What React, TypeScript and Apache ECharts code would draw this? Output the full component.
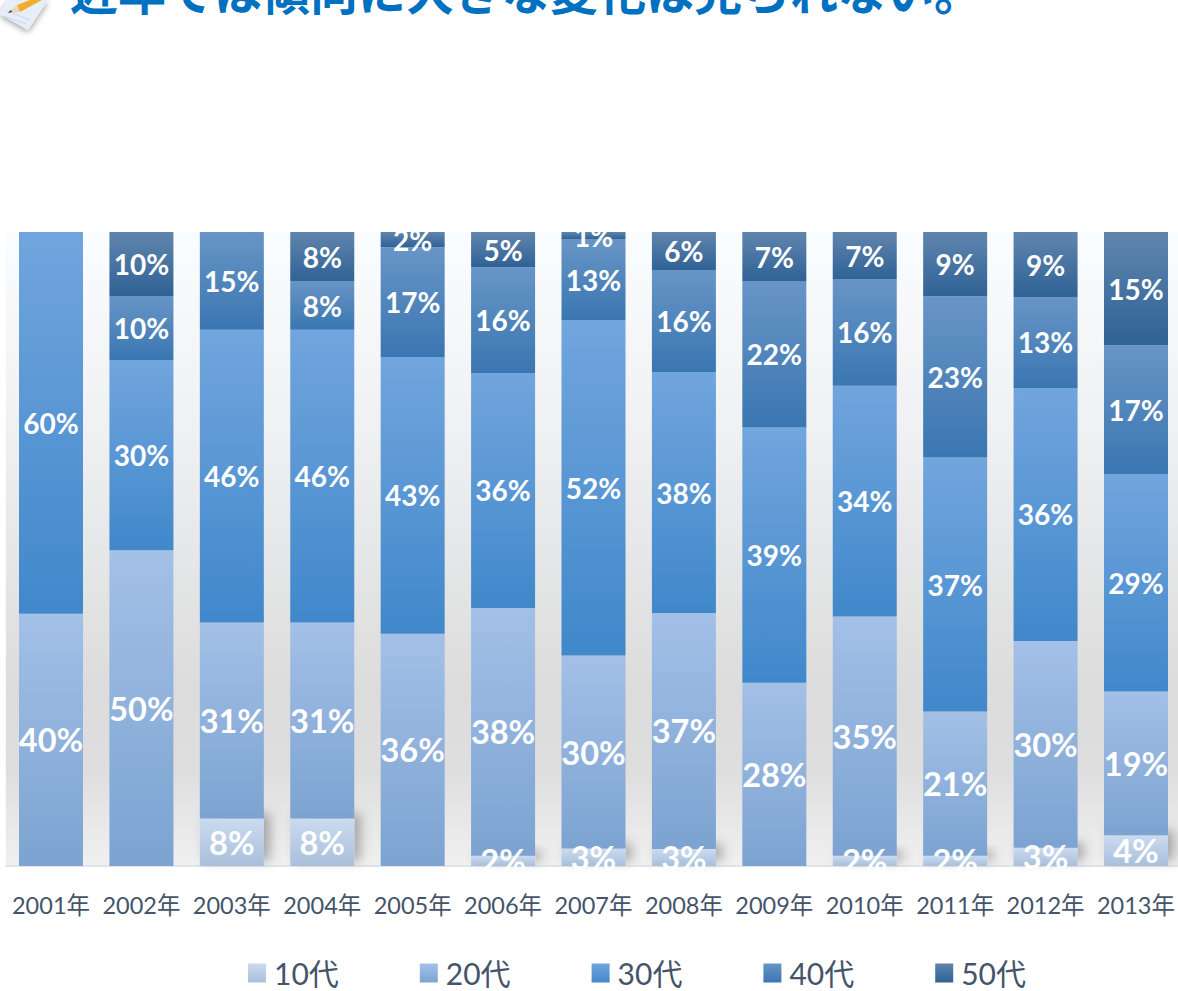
import React, { useEffect, useRef } from "react";
import * as echarts from "echarts";

const years = ["2001年","2002年","2003年","2004年","2005年","2006年","2007年","2008年","2009年","2010年","2011年","2012年","2013年"];
const seriesNames = ["10代","20代","30代","40代","50代"];
const teens =    [0,    0,    7.5,  7.5,  0,    1.6,  2.7,  2.7,  0,     1.5,  1.5,  2.6,  4.1];
const twenties = [39.8, 49.8, 30.9, 30.9, 36.4, 38.4, 29.8, 37.2, 27.6,  35.4, 20.9, 29.6, 19.2];
const thirties = [60.2, 30,   46.2, 46.2, 43.4, 36.4, 51.8, 38,   38.5,  34.1, 36.8, 36.2, 29];
const forties =  [0,    10.1, 15.4, 7.6,  17.2, 16.4, 12.5, 16.1, 22,    15.8, 23.4, 13,   17.2];
const fifties =  [0,    10.1, 0,    7.8,  2.4,  5.45, 1.1,  6,    7.45,  6.95, 9.3,  9.3,  15.1];
const allValues = [teens, twenties, thirties, forties, fifties];

const topColors = ["#cbdbf0", "#a3c0e7", "#71a5dd", "#6895c6", "#6085ad"];
const bottomColors = ["#a8bfdb", "#7ca3d1", "#4088cb", "#3a76b1", "#2f6296"];

function grad(c1: string, c2: string) {
  return new echarts.graphic.LinearGradient(0, 0, 0, 1, [
    { offset: 0, color: c1 },
    { offset: 1, color: c2 },
  ]);
}

export default function App() {
  const ref = useRef<HTMLDivElement>(null);
  useEffect(() => {
    document.body.style.margin = "0";
    document.body.style.overflow = "hidden";
    const chart = echarts.init(ref.current!, undefined, { renderer: "svg" });
    const font = "'Lato','Noto Sans CJK JP',sans-serif";
    const totals = years.map((_, i) => allValues.reduce((s, a) => s + a[i], 0));
    const series = seriesNames.map((name, k) => ({
      name,
      type: "bar",
      stack: "share",
      barWidth: 64,
      data: allValues[k].map((v, i) => (v > 0 ? { value: (v / totals[i]) * 100, raw: v } : null)),
      itemStyle: {
        color: grad(topColors[k], bottomColors[k]),
        ...(k === 0
          ? { shadowColor: "rgba(0,0,0,0.3)", shadowBlur: 12, shadowOffsetX: 6, shadowOffsetY: -5 }
          : {}),
      },
      label: {
        show: true,
        position: "inside",
        color: "#ffffff",
        fontFamily: font,
        fontWeight: "bold",
        fontSize: k < 2 ? 32.5 : 28,
        formatter: (p: any) => Math.round(p.data.raw) + "%",
      },
    }));
    chart.setOption({
      animation: false,
      grid: {
        show: true,
        left: 5.8,
        top: 232,
        width: 1175.4,
        height: 634,
        borderWidth: 0,
        backgroundColor: new echarts.graphic.LinearGradient(0, 0, 0, 1, [
          { offset: 0, color: "#fafdff" },
          { offset: 0.3, color: "#f0f1f3" },
          { offset: 0.72, color: "#dcdcdc" },
          { offset: 0.85, color: "#dedede" },
          { offset: 1, color: "#f0f0f0" },
        ]),
      },
      xAxis: {
        type: "category",
        data: years,
        axisTick: { show: false },
        axisLine: { lineStyle: { color: "#e1e5ea", width: 2 } },
        axisLabel: { color: "#44546a", fontFamily: font, fontSize: 23.5, margin: 27, interval: 0 },
      },
      yAxis: { type: "value", min: 0, max: 100, show: false, splitLine: { show: false } },
      legend: {
        left: 248,
        top: 958,
        itemWidth: 18,
        itemHeight: 19,
        itemGap: 81,
        padding: 0,
        icon: "rect",
        data: seriesNames,
        textStyle: { color: "#44546a", fontFamily: font, fontSize: 30, padding: [0, 0, 0, 3] },
      },
      graphic: [
        {
          type: "text",
          left: 70,
          top: -35,
          style: {
            text: "近年では傾向に大きな変化は見られない。",
            fill: "#0070c0",
            font: "bold 48px 'Noto Sans CJK JP'",
          },
        },
        {
          type: "polygon",
          shape: { points: [[0, 14], [8, 0], [48, 0], [28, 30]] },
          style: { fill: "#e6eff9", shadowColor: "rgba(0,0,0,0.4)", shadowBlur: 6, shadowOffsetY: 2 },
        },
        {
          type: "polyline",
          shape: { points: [[4, 16], [26, 24]] },
          style: { stroke: "#c4d8ee", lineWidth: 1, fill: "none" },
        },
        {
          type: "polyline",
          shape: { points: [[7, 11], [30, 20]] },
          style: { stroke: "#c4d8ee", lineWidth: 1, fill: "none" },
        },
        {
          type: "polygon",
          shape: { points: [[17, 5], [30, 0], [42, 0], [20, 12]] },
          style: { fill: "#f2ad2e" },
        },
        {
          type: "polygon",
          shape: { points: [[8, 13], [17, 5], [20, 12]] },
          style: { fill: "#e8d6b4" },
        },
        {
          type: "polygon",
          shape: { points: [[8, 13], [11, 10], [12, 12]] },
          style: { fill: "#333333" },
        },
      ],
      series,
    });
    return () => chart.dispose();
  }, []);
  return (
    <div style={{ width: 1178, height: 991, overflow: "hidden" }}>
      <div ref={ref} style={{ width: 1200, height: 991 }} />
    </div>
  );
}
